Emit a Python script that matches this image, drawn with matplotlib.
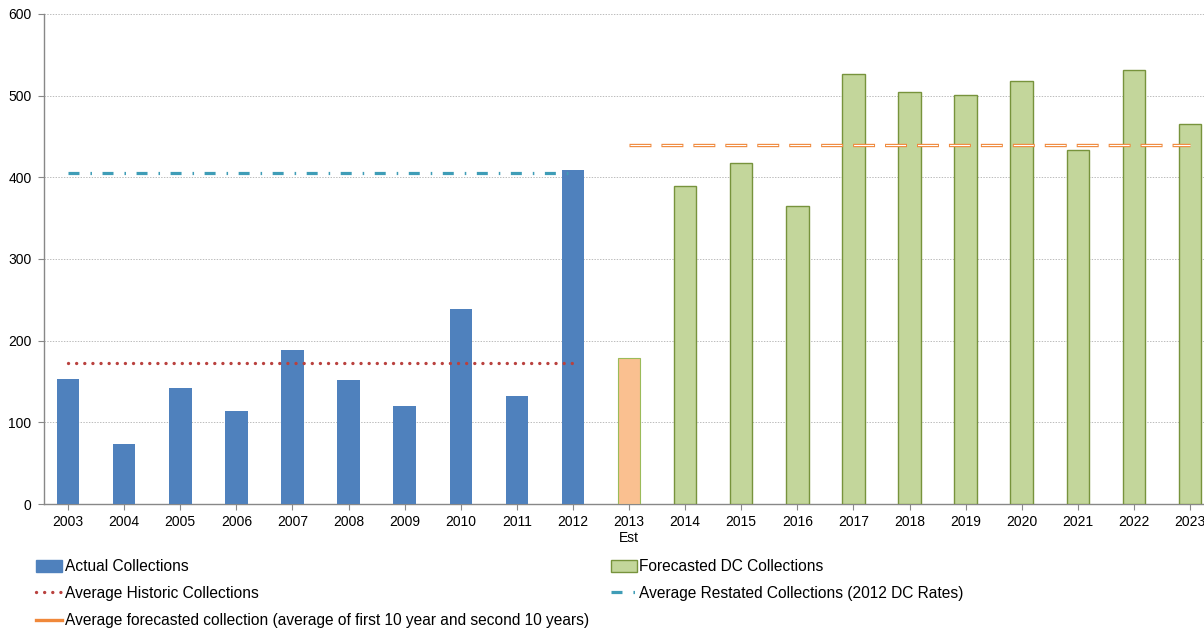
import numpy as np
import matplotlib
matplotlib.use("Agg")
import matplotlib.pyplot as plt
from matplotlib.patches import Patch
from matplotlib.lines import Line2D

plt.rcParams['font.family'] = ['Liberation Sans', 'DejaVu Sans']
plt.rcParams['lines.scale_dashes'] = False

# collections by year
years = ['2003', '2004', '2005', '2006', '2007', '2008', '2009', '2010', '2011', '2012',
         '2013\nEst', '2014', '2015', '2016', '2017', '2018', '2019', '2020', '2021', '2022', '2023']
actual = [153, 74, 142, 114, 189, 152, 120, 239, 132, 409]
estimate_2013 = 179
forecast = [389, 418, 365, 526, 505, 501, 518, 434, 531, 465]
restated_avg = 405

hist_avg = np.mean(actual)
fc_avg = np.mean([estimate_2013] + forecast)

BLUE = '#4F81BD'
GREEN_FILL = '#C3D69B'
GREEN_EDGE = '#77933C'
PEACH = '#FAC090'
RED = '#B9413E'
TEAL = '#3F9DB7'
ORANGE = '#F0883A'

fig = plt.figure(figsize=(12.04, 6.28), dpi=100)
ax = fig.add_axes([44/1204, 124/628, 1 - 44/1204, 490/628])

x = np.arange(len(years))
w = 0.4
ax.bar(x[:10], actual, width=w, color=BLUE, zorder=3)
ax.bar(x[10], estimate_2013, width=w, color=PEACH, edgecolor='#9BBB59', linewidth=0.8, zorder=3)
ax.bar(x[11:], forecast, width=w, color=GREEN_FILL, edgecolor=GREEN_EDGE, linewidth=1.0, zorder=3)

# average lines
ax.plot([x[0], x[9]], [hist_avg, hist_avg], color=RED, lw=2.4,
        linestyle=(0, (0.05, 5.8)), dash_capstyle='round', zorder=4)
ax.plot([x[0], x[9]], [restated_avg, restated_avg], color=TEAL, lw=2.3,
        linestyle=(0, (7.9, 7.9, 1.1, 7.6)), dash_capstyle='butt', zorder=4)
ax.plot([x[10], x[20]], [fc_avg, fc_avg], color=ORANGE, lw=2.4,
        linestyle=(0, (15.8, 7.2)), dash_capstyle='butt', zorder=4)
ax.plot([x[10], x[20]], [fc_avg, fc_avg], color='white', lw=0.8,
        linestyle=(22.3, (14.4, 8.6)), dash_capstyle='butt', zorder=5)

ax.set_xlim(-0.43, 20.25)
ax.set_ylim(0, 600)
ax.set_yticks(np.arange(0, 601, 100))
ax.set_xticks(x)
ax.set_xticklabels(years, fontsize=10)
ax.tick_params(axis='y', labelsize=10, length=4, color='#888888', pad=5)
ax.tick_params(axis='x', length=4, color='#888888', pad=4)
ax.yaxis.grid(True, color='#BBBBBB', linestyle=(0, (1, 1)), linewidth=0.7, zorder=0)
ax.set_axisbelow(True)
for s in ['top', 'right']:
    ax.spines[s].set_visible(False)
for s in ['left', 'bottom']:
    ax.spines[s].set_color('#888888')
    ax.spines[s].set_linewidth(1.0)

handles = [
    Patch(facecolor=BLUE, edgecolor=BLUE),
    Line2D([0], [0], color=RED, lw=2.4, linestyle=(0, (0.05, 5.8)), dash_capstyle='round'),
    Line2D([0], [0], color=ORANGE, lw=2.4),
    Patch(facecolor=GREEN_FILL, edgecolor=GREEN_EDGE, linewidth=1.0),
    Line2D([0], [0], color=TEAL, lw=2.3, linestyle=(0, (7.9, 7.9, 1.1, 7.6))),
]
labels = ['Actual Collections', 'Average Historic Collections',
          'Average forecasted collection (average of first 10 year and second 10 years)',
          'Forecasted DC Collections', 'Average Restated Collections (2012 DC Rates)']
fig.legend(handles, labels, loc='upper left', bbox_to_anchor=(36/1204, 1 - 559/628),
           ncol=2, frameon=False, fontsize=11.2, handlelength=1.7, handleheight=0.8,
           handletextpad=0.15, labelspacing=0.78, columnspacing=1.4, borderpad=0,
           borderaxespad=0)

fig.savefig('out.png', dpi=100)
